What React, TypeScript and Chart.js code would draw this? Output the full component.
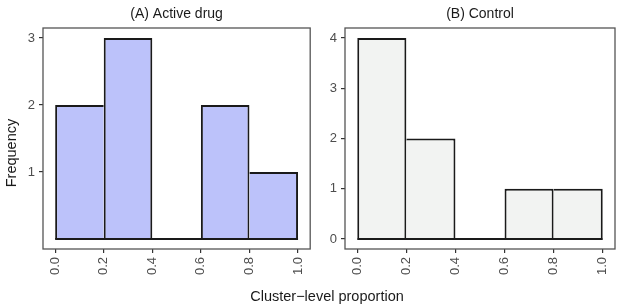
import React, { useEffect, useRef } from "react";
import { Chart, registerables } from "chart.js";

Chart.register(...registerables);

const binEdges = [0, 0.2, 0.4, 0.6, 0.8, 1.0];
const activeCounts = [2, 3, 0, 2, 1];
const controlCounts = [4, 2, 0, 1, 1];
const xTickValues = [0, 0.2, 0.4, 0.6, 0.8, 1.0];
const yTicksActive = [1, 2, 3];
const yTicksControl = [0, 1, 2, 3, 4];
const titleActive = "(A) Active drug";
const titleControl = "(B) Control";
const xTitle = "Cluster\u2212level proportion";
const yTitle = "Frequency";

const FONT = "'Liberation Sans', Arial, Helvetica, sans-serif";
const EDGE = "#1a1a1a";
const TICK = "#4d4d4d";

const framePlugin = {
  id: "frame",
  afterDraw(chart: any) {
    const { ctx, chartArea } = chart;
    ctx.save();
    ctx.strokeStyle = "#555555";
    ctx.lineWidth = 1.3;
    ctx.strokeRect(chartArea.left, chartArea.top, chartArea.right - chartArea.left, chartArea.bottom - chartArea.top);
    ctx.restore();
  },
};

function makeConfig(
  counts: number[],
  fill: string,
  title: string,
  yTicks: number[],
  yMin: number,
  yMax: number,
  yWidth: number,
  padRight: number
): any {
  const centres = counts.map((_, i) => (binEdges[i] + binEdges[i + 1]) / 2);
  const w = 2;
  const bw = (ctx: any) => {
    const i = ctx.dataIndex;
    const h = counts[i];
    const prev = i > 0 ? counts[i - 1] : 0;
    const next = i < counts.length - 1 ? counts[i + 1] : 0;
    if (!h) return 0;
    return {
      top: w,
      bottom: 0,
      left: prev < h ? w : 0,
      right: next <= h ? w : 0,
    };
  };
  const grid = {
    display: true,
    drawOnChartArea: false,
    drawTicks: true,
    tickLength: 4,
    color: "#333333",
    lineWidth: 1.2,
    offset: false,
  };
  return {
    type: "bar",
    data: {
      datasets: [
        {
          type: "line",
          data: binEdges.map((x) => ({ x, y: 0 })),
          borderColor: EDGE,
          borderWidth: 2,
          pointRadius: 0,
          order: 0,
        },
        {
          type: "bar",
          data: centres.map((x, i) => ({ x, y: counts[i] })),
          backgroundColor: fill,
          borderColor: EDGE,
          borderWidth: bw,
          borderSkipped: false,
          barPercentage: 1,
          categoryPercentage: 1,
          inflateAmount: 0,
          order: 1,
        },
      ],
    },
    options: {
      responsive: false,
      animation: false,
      devicePixelRatio: 1,
      layout: { padding: { left: 0, right: padRight, top: 0, bottom: 0 } },
      plugins: {
        legend: { display: false },
        tooltip: { enabled: false },
        title: {
          display: true,
          text: title,
          fullSize: false,
          color: "#1a1a1a",
          font: { family: FONT, size: 14, weight: "normal", lineHeight: 1.2 },
          padding: { top: 5.5, bottom: 5.7 },
        },
      },
      scales: {
        x: {
          type: "linear",
          min: -0.05,
          max: 1.05,
          offset: false,
          afterFit(scale: any) {
            scale.height = 56;
          },
          afterBuildTicks(scale: any) {
            scale.ticks = xTickValues.map((v) => ({ value: v }));
          },
          ticks: {
            callback: (v: any) => Number(v).toFixed(1),
            minRotation: 90,
            maxRotation: 90,
            color: TICK,
            padding: 4,
            font: { family: FONT, size: 13 },
          },
          grid,
          border: { display: false },
        },
        y: {
          type: "linear",
          min: yMin,
          max: yMax,
          afterFit(scale: any) {
            scale.width = yWidth;
          },
          afterBuildTicks(scale: any) {
            scale.ticks = yTicks.map((v) => ({ value: v }));
          },
          ticks: {
            color: TICK,
            padding: 4,
            font: { family: FONT, size: 13 },
          },
          grid,
          border: { display: false },
        },
      },
    },
    plugins: [framePlugin],
  };
}

function Panel(props: { cfg: any; left: number; width: number }) {
  const ref = useRef<HTMLCanvasElement | null>(null);
  useEffect(() => {
    if (!ref.current) return;
    const chart = new Chart(ref.current, props.cfg);
    return () => chart.destroy();
  }, []);
  return (
    <canvas
      ref={ref}
      width={props.width}
      height={305}
      style={{ position: "absolute", left: props.left, top: 0, width: props.width, height: 305 }}
    />
  );
}

export default function App() {
  const cfgA = makeConfig(activeCounts, "#bcc2fa", titleActive, yTicksActive, -0.15, 3.15, 43, 5);
  const cfgB = makeConfig(controlCounts, "#f2f3f2", titleControl, yTicksControl, -0.2, 4.2, 25, 8);
  return (
    <div style={{ position: "absolute", left: 0, top: 0, width: 623, height: 305, background: "#ffffff", overflow: "hidden" }}>
      <Panel cfg={cfgA} left={0} width={318} />
      <Panel cfg={cfgB} left={320} width={303} />
      <div
        style={{
          position: "absolute",
          left: -39,
          top: 145,
          width: 100,
          height: 16,
          transform: "rotate(-90deg)",
          transformOrigin: "50px 8px",
          textAlign: "center",
          fontFamily: FONT,
          fontSize: 14.5,
          color: "#1a1a1a",
          whiteSpace: "nowrap",
          lineHeight: "16px",
        }}
      >
        {yTitle}
      </div>
      <div
        style={{
          position: "absolute",
          left: 227,
          top: 288,
          width: 200,
          height: 16,
          textAlign: "center",
          fontFamily: FONT,
          fontSize: 14.5,
          color: "#1a1a1a",
          whiteSpace: "nowrap",
          lineHeight: "16px",
        }}
      >
        {xTitle}
      </div>
    </div>
  );
}
